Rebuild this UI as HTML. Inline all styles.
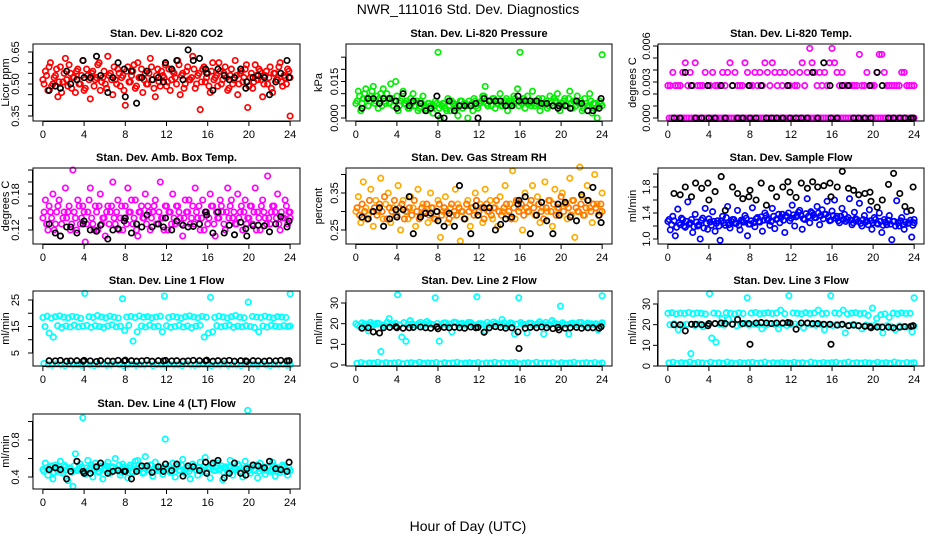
<!DOCTYPE html>
<html><head><meta charset="utf-8"><title>NWR_111016 Std. Dev. Diagnostics</title>
<style>
html,body{margin:0;padding:0;background:#fff;}
svg{display:block;font-family:"Liberation Sans",Arial,sans-serif;}
</style></head>
<body>
<svg id="chart" width="936" height="540" viewBox="0 0 936 540" xmlns="http://www.w3.org/2000/svg">
<rect x="0" y="0" width="936" height="540" fill="#fff"/>
<text x="468" y="14" text-anchor="middle" font-size="14">NWR_111016  Std. Dev. Diagnostics</text>
<text x="468" y="531" text-anchor="middle" font-size="14">Hour of Day (UTC)</text>
</svg>
<script>
// ---- shared data ----
const xTicks = [0,4,8,12,16,20,24];
const blackTimes = [0.6,1.2,1.7,2.3,2.7,3.3,3.9,4.0,4.6,5.2,5.6,6.3,6.8,7.3,7.9,8.0,8.6,9.1,9.6,10.1,10.6,11.2,11.7,11.9,12.5,13.0,13.6,14.1,14.6,15.2,15.8,15.9,16.5,17.0,17.6,18.1,18.6,19.2,19.7,19.8,20.4,20.9,21.5,22.0,22.6,23.1,23.7,23.9];

// ---- panel 1: CO2 ----
const co2Main = [0.52,0.56,0.47,0.60,0.50,0.54,0.44,0.58,0.51,0.62,0.49,0.55,0.53,0.46,0.57,0.50,0.61,0.48,0.54,0.43,0.56,0.52,0.59,0.47,0.53,0.50,0.63,0.55,0.45,0.52,0.57,0.49,0.54,0.40,0.58,0.51,0.56,0.48,0.60,0.53,0.46,0.55,0.50,0.62,0.52,0.44,0.57,0.49,0.54,0.59,0.51,0.47,0.56,0.53,0.61,0.45,0.55,0.50,0.58,0.52,0.63,0.48,0.54,0.38,0.57,0.51,0.55,0.46,0.60,0.53,0.49,0.56,0.52,0.58,0.47,0.54,0.50,0.61,0.45,0.55,0.51,0.57,0.39,0.53,0.48,0.59,0.52,0.56,0.44,0.54,0.50,0.58,0.46,0.55,0.52,0.60,0.49,0.53,0.57,0.35];
const co2MainB = [0.50,0.54,0.58,0.49,0.53,0.57,0.51,0.46,0.55,0.52,0.59,0.48,0.53,0.56,0.50,0.54,0.47,0.57,0.52,0.55,0.49,0.53,0.60,0.51,0.56,0.48,0.54,0.52,0.58,0.50,0.55,0.53,0.47,0.56,0.51,0.54,0.59,0.49,0.53,0.57,0.52,0.50,0.55,0.58,0.48,0.54,0.51,0.56,0.53,0.49,0.57,0.52,0.55,0.50,0.59,0.54,0.48,0.56,0.52,0.53,0.57,0.50,0.55,0.51,0.58,0.53,0.49,0.56,0.52,0.54,0.60,0.50,0.55,0.53,0.48,0.57,0.52,0.54,0.50,0.56,0.53,0.59,0.49,0.55,0.51,0.54,0.57,0.52,0.50,0.56,0.53,0.48,0.55,0.52,0.58,0.51,0.54,0.50,0.56,0.53];
const co2Black = [0.47,0.49,0.48,0.56,0.50,0.52,0.61,0.53,0.53,0.63,0.54,0.46,0.53,0.60,0.57,0.44,0.56,0.41,0.53,0.56,0.52,0.53,0.51,0.60,0.57,0.61,0.52,0.66,0.61,0.62,0.57,0.55,0.47,0.57,0.54,0.52,0.53,0.57,0.48,0.51,0.53,0.54,0.53,0.45,0.51,0.55,0.61,0.53];
const co2Ticks = [0.35,0.40,0.45,0.50,0.55,0.60,0.65];
const co2Labels = ["0.35","0.50","0.65"];

// ---- panel 2: pressure ----
const presMain = [0.006,0.011,0.003,0.008,0.012,0.005,0.009,0.013,0.007,0.004,0.010,0.012,0.006,0.008,0.014,0.005,0.015,0.003,0.007,0.011,0.006,0.004,0.008,0.010,0.005,0.003,0.007,0.009,0.004,0.006,0.005,0.002,0.007,0.027,0.000,0.006,0.004,0.008,0.003,0.006,0.005,0.001,0.007,0.004,0.006,0.000,0.005,0.003,0.007,0.004,0.006,0.009,0.013,0.005,0.007,0.008,0.004,0.006,0.010,0.005,0.007,0.003,0.006,0.005,0.008,0.012,0.027,0.007,0.004,0.009,0.006,0.011,0.005,0.007,0.003,0.008,0.006,0.004,0.009,0.005,0.007,0.010,0.003,0.006,0.008,0.005,0.011,0.004,0.007,0.009,0.006,0.003,0.008,0.005,0.010,0.002,0.006,0.000,0.007,0.026];
const presMainB = [0.007,0.009,0.006,0.010,0.008,0.007,0.011,0.006,0.009,0.008,0.005,0.007,0.010,0.006,0.008,0.007,0.009,0.005,0.008,0.006,0.007,0.004,0.006,0.005,0.007,0.004,0.006,0.005,0.003,0.006,0.004,0.005,0.006,0.004,0.005,0.006,0.003,0.005,0.007,0.006,0.004,0.005,0.007,0.006,0.005,0.007,0.006,0.008,0.005,0.006,0.007,0.009,0.006,0.007,0.005,0.008,0.006,0.007,0.005,0.006,0.008,0.007,0.006,0.009,0.007,0.005,0.006,0.008,0.007,0.006,0.005,0.007,0.006,0.008,0.005,0.006,0.007,0.005,0.006,0.008,0.007,0.005,0.006,0.007,0.005,0.008,0.006,0.007,0.005,0.006,0.007,0.004,0.006,0.005,0.007,0.006,0.004,0.005,0.006,0.005];
const presBlack = [0.004,0.008,0.008,0.006,0.008,0.008,0.007,0.004,0.010,0.005,0.007,0.006,0.003,0.004,0.009,0.001,0.000,0.007,0.003,0.005,0.005,0.005,0.006,0.000,0.008,0.007,0.007,0.007,0.005,0.005,0.009,0.007,0.007,0.007,0.007,0.006,0.006,0.005,0.004,0.005,0.005,0.004,0.007,0.006,0.003,0.003,0.004,0.008];
const presTicks = [0,0.005,0.010,0.015,0.020,0.025];
const presLabels = ["0.000","0.015"];

// ---- panel 3: Li-820 temperature ----
const tempMain = [0.0027,0.0027,0.0038,0.0027,0.0027,0.0027,0.0038,0.0046,0.0027,0.0038,0.0027,0.0046,0.0027,0.0027,0.0027,0.0038,0.0027,0.0027,0.0038,0.0027,0.0027,0.0027,0.0038,0.0027,0.0038,0.0046,0.0027,0.0038,0.0027,0.0027,0.0027,0.0046,0.0038,0.0027,0.0027,0.0038,0.0027,0.0038,0.0027,0.0046,0.0038,0.0027,0.0046,0.0038,0.0027,0.0038,0.0027,0.0038,0.0027,0.0027,0.0038,0.0027,0.0027,0.0038,0.0046,0.0027,0.0038,0.0058,0.0046,0.0038,0.0027,0.0038,0.0027,0.0038,0.0027,0.0046,0.0058,0.0046,0.0038,0.0027,0.0038,0.0027,0.0027,0.0027,0.0027,0.0027,0.0027,0.0053,0.0027,0.0027,0.0038,0.0027,0.0027,0.0027,0.0038,0.0053,0.0053,0.0038,0.0027,0.0027,0.0027,0.0027,0.0027,0.0027,0.0038,0.0038,0.0027,0.0027,0.0027,0.0027];
const tempMainB = [0,0,0,0,0,0,0,0,0,0,0,0,0,0,0,0,0,0,0,0,0,0,0,0,0,0,0,0,0,0,0,0,0,0,0,0,0,0,0,0,0,0,0,0,0,0,0,0,0,0,0,0,0,0,0,0,0,0,0,0,0,0,0,0,0,0,0,0,0,0,0,0,0,0,0,0,0,0,0,0,0,0,0,0,0,0,0,0,0,0,0,0,0,0,0,0,0,0,0,0];
const tempBlack = [0,0,0.0038,0.0027,0,0,0.0027,0,0,0.0027,0,0.0027,0,0,0.0027,0,0,0.0027,0,0,0,0,0.0027,0,0,0,0,0.0038,0,0.0046,0.0027,0,0,0.0027,0.0027,0,0,0,0.0027,0,0.0038,0.0027,0,0,0,0,0,0];
const tempTicks = [0,0.001,0.002,0.003,0.004,0.005,0.006];
const tempLabels = ["0.000","0.003","0.006"];

// ---- panel 4: ambient box temperature ----
const ambMain = [0.14,0.17,0.12,0.15,0.18,0.13,0.16,0.11,0.14,0.19,0.15,0.12,0.22,0.14,0.17,0.13,0.16,0.10,0.15,0.19,0.13,0.16,0.12,0.18,0.14,0.11,0.16,0.15,0.20,0.13,0.17,0.14,0.12,0.16,0.19,0.15,0.13,0.17,0.11,0.15,0.14,0.18,0.16,0.12,0.15,0.17,0.13,0.20,0.14,0.16,0.12,0.15,0.18,0.13,0.16,0.14,0.11,0.17,0.15,0.13,0.16,0.19,0.14,0.12,0.17,0.15,0.13,0.18,0.16,0.11,0.14,0.17,0.15,0.12,0.19,0.16,0.14,0.13,0.18,0.15,0.12,0.17,0.14,0.16,0.13,0.19,0.15,0.12,0.17,0.14,0.21,0.13,0.16,0.15,0.18,0.12,0.14,0.17,0.13,0.15];
const ambMainB = [0.15,0.13,0.16,0.14,0.12,0.15,0.17,0.13,0.15,0.14,0.16,0.13,0.15,0.12,0.16,0.14,0.15,0.13,0.17,0.14,0.12,0.15,0.16,0.13,0.14,0.15,0.13,0.16,0.14,0.15,0.12,0.16,0.14,0.13,0.15,0.17,0.14,0.12,0.15,0.16,0.14,0.13,0.15,0.14,0.16,0.13,0.15,0.14,0.12,0.16,0.15,0.13,0.14,0.16,0.15,0.13,0.14,0.15,0.17,0.14,0.13,0.15,0.16,0.14,0.12,0.15,0.14,0.16,0.13,0.15,0.14,0.16,0.13,0.15,0.14,0.17,0.15,0.13,0.14,0.16,0.15,0.13,0.14,0.16,0.15,0.12,0.14,0.16,0.15,0.13,0.14,0.15,0.16,0.14,0.13,0.15,0.14,0.16,0.15,0.14];
const ambBlack = [0.13,0.115,0.11,0.125,0.125,0.115,0.13,0.135,0.12,0.118,0.128,0.105,0.12,0.122,0.135,0.14,0.115,0.13,0.125,0.145,0.125,0.13,0.125,0.14,0.12,0.135,0.128,0.125,0.126,0.13,0.15,0.145,0.115,0.15,0.115,0.128,0.112,0.133,0.122,0.11,0.127,0.128,0.127,0.117,0.13,0.142,0.125,0.135];
const ambTicks = [0.12,0.14,0.16,0.18,0.20,0.22];
const ambLabels = ["0.12","0.18"];

// ---- panel 5: gas stream RH ----
const rhMain = [0.30,0.34,0.27,0.38,0.31,0.29,0.36,0.26,0.33,0.30,0.39,0.28,0.32,0.35,0.27,0.31,0.29,0.37,0.25,0.33,0.30,0.28,0.34,0.31,0.26,0.36,0.29,0.32,0.30,0.27,0.35,0.31,0.28,0.33,0.23,0.30,0.34,0.27,0.31,0.29,0.36,0.32,0.22,0.30,0.28,0.33,0.26,0.31,0.35,0.29,0.32,0.27,0.36,0.30,0.33,0.28,0.31,0.26,0.34,0.30,0.37,0.29,0.32,0.41,0.28,0.33,0.31,0.25,0.35,0.30,0.32,0.37,0.29,0.34,0.27,0.31,0.38,0.30,0.33,0.26,0.36,0.31,0.29,0.35,0.32,0.28,0.39,0.33,0.23,0.30,0.42,0.34,0.29,0.37,0.31,0.27,0.40,0.32,0.30,0.35];
const rhMainB = [0.31,0.29,0.32,0.30,0.28,0.33,0.30,0.31,0.29,0.32,0.30,0.34,0.28,0.31,0.30,0.33,0.29,0.31,0.32,0.28,0.30,0.31,0.29,0.33,0.30,0.28,0.31,0.30,0.32,0.29,0.31,0.28,0.30,0.32,0.29,0.31,0.30,0.28,0.32,0.30,0.29,0.31,0.30,0.28,0.32,0.30,0.31,0.29,0.33,0.30,0.31,0.28,0.32,0.30,0.29,0.31,0.33,0.30,0.29,0.31,0.32,0.30,0.28,0.31,0.33,0.30,0.32,0.29,0.31,0.30,0.33,0.31,0.29,0.32,0.30,0.28,0.31,0.33,0.30,0.32,0.29,0.31,0.34,0.30,0.32,0.31,0.29,0.33,0.31,0.30,0.32,0.29,0.31,0.33,0.30,0.32,0.31,0.29,0.32,0.30];
const rhBlack = [0.285,0.28,0.30,0.31,0.26,0.28,0.305,0.285,0.305,0.34,0.24,0.285,0.295,0.295,0.30,0.275,0.26,0.295,0.26,0.37,0.28,0.24,0.315,0.29,0.31,0.31,0.25,0.265,0.28,0.285,0.32,0.33,0.34,0.24,0.29,0.325,0.275,0.24,0.32,0.29,0.325,0.285,0.275,0.345,0.33,0.365,0.29,0.27];
const rhTicks = [0.25,0.30,0.35,0.40];
const rhLabels = ["0.25","0.35"];

// ---- panel 6: sample flow ----
const sfMain = [1.27,1.14,1.35,1.05,1.46,1.22,1.30,1.18,1.57,1.25,1.10,1.38,1.20,1.00,1.32,1.47,1.15,1.26,1.42,1.12,1.28,0.98,1.35,1.21,1.50,1.17,1.30,1.24,1.44,1.14,1.27,1.36,1.05,1.23,1.48,1.19,1.33,1.26,1.12,1.40,1.29,1.21,1.47,1.16,1.31,1.25,1.38,1.10,1.34,1.28,1.52,1.20,1.36,1.44,1.15,1.30,1.62,1.25,1.40,1.33,1.50,1.22,1.45,1.38,1.58,1.28,1.43,1.60,1.35,1.25,1.47,1.38,1.30,1.62,1.22,1.41,1.30,1.55,1.20,1.36,1.28,1.45,1.15,1.33,1.24,1.40,1.10,1.30,1.22,1.36,0.99,1.27,1.59,1.20,1.33,1.15,1.42,1.25,1.03,1.30];
const sfMainB = [1.30,1.22,1.28,1.18,1.25,1.32,1.20,1.27,1.23,1.30,1.19,1.26,1.22,1.29,1.17,1.24,1.31,1.21,1.27,1.24,1.20,1.28,1.25,1.33,1.22,1.27,1.30,1.24,1.21,1.29,1.26,1.32,1.23,1.28,1.25,1.31,1.27,1.34,1.29,1.36,1.31,1.27,1.35,1.30,1.38,1.33,1.29,1.36,1.40,1.32,1.37,1.34,1.41,1.36,1.31,1.39,1.35,1.42,1.37,1.33,1.40,1.36,1.31,1.38,1.34,1.29,1.36,1.32,1.28,1.35,1.30,1.27,1.33,1.29,1.25,1.31,1.27,1.24,1.30,1.26,1.22,1.28,1.25,1.30,1.23,1.27,1.21,1.26,1.29,1.23,1.27,1.20,1.25,1.28,1.22,1.26,1.24,1.29,1.21,1.25];
const sfBlack = [1.7,1.68,1.8,1.65,1.86,1.78,1.86,1.6,1.73,1.96,1.44,1.80,1.70,1.62,1.65,1.75,1.60,1.86,1.52,1.78,1.65,1.80,1.88,1.72,1.64,1.86,1.78,1.88,1.80,1.82,1.86,1.65,1.80,2.04,1.78,1.75,1.68,1.70,1.72,1.58,1.49,1.60,1.84,2.01,1.70,1.50,1.44,1.80];
const sfTicks = [1.0,1.2,1.4,1.6,1.8,2.0];
const sfLabels = ["1.0","1.4","1.8"];

// ---- panel 7: line 1 flow ----
const l1Upper = [18.4,18.9,18.2,18.7,19.0,18.5,18.3,18.8,18.6,18.1,27.5,18.7,18.4,19.1,18.6,18.3,18.9,18.5,18.2,25.5,18.6,18.8,18.4,19.0,18.5,18.7,18.3,18.6,18.9,26.5,18.4,18.8,18.5,18.2,18.7,19.0,18.6,18.3,18.8,18.5,26.0,18.4,18.9,18.6,18.2,18.7,19.1,18.5,18.3,24.2,18.8,18.6,18.4,18.9,18.5,18.2,18.7,18.6,18.4,27.3];
const l1Lower = [15.0,12.5,11.0,15.3,14.6,15.2,14.8,15.5,14.9,15.1,15.4,14.7,15.3,15.0,14.6,15.2,15.6,14.9,15.1,13.5,15.4,9.5,13.0,15.2,14.8,15.5,14.9,15.1,13.0,15.3,14.7,15.0,15.4,14.8,15.2,14.5,15.1,15.4,11.0,12.5,13.0,15.3,14.9,15.2,15.5,14.7,15.1,14.9,15.3,15.0,14.6,13.0,15.2,14.8,15.4,15.1,14.9,15.3,15.0,15.2];
const l1Zero = [1.0,0.6,0.4,0.8,0.5,0.3,0.7,0.5,0.6,0.4,0.8,0.5,0.3,0.6,0.7,0.4,0.5,0.8,0.6,0.3,0.5,0.7,0.4,0.6,0.5,0.8,0.3,0.6,0.5,0.4,0.7,0.5,0.6,0.3,0.8,0.5,0.4,0.6,0.7,0.5,0.3,0.6,0.5,0.8,0.4,0.6,0.5,0.3,0.7,0.5,0.6,0.4,0.8,0.5,0.3,0.6,0.5,0.7,0.4,0.6];
const l1Black = [2.1,2.0,2.2,1.9,2.0,2.1,1.9,2.2,2.0,1.8,2.1,2.0,1.9,2.2,2.0,2.3,2.1,1.9,2.0,2.2,1.9,2.1,2.0,2.2,2.0,2.1,1.9,2.0,2.2,2.1,2.0,2.3,1.9,2.1,2.0,2.2,1.9,2.1,2.0,1.8,2.1,2.0,1.9,2.1,2.0,2.2,2.0,2.1];
const l1Ticks = [5,10,15,20,25];
const l1Labels = ["5","15","25"];

// ---- panel 8: line 2 flow ----
const l2Upper = [20.0,18.5,19.5,16.5,19.8,20.2,6.5,19.0,22.5,19.6,34.0,13.5,11.5,21.5,19.4,20.1,19.0,21.0,19.7,32.5,11.5,20.3,19.2,16.0,20.5,19.8,19.3,20.6,19.5,33.0,20.0,16.5,19.4,20.8,19.6,22.0,19.1,20.4,15.0,32.5,19.8,15.5,20.2,19.5,20.9,15.0,19.3,21.5,20.0,28.5,19.7,15.0,20.3,19.4,20.6,19.1,20.0,19.6,17.0,33.5];
const l2Mid = [19.2,20.4,19.8,20.6,19.5,20.1,19.3,20.7,19.9,20.2,19.4,20.5,19.7,20.0,19.2,20.6,19.8,20.3,19.5,20.1,19.6,20.4,19.9,20.7,19.3,20.2,19.8,20.5,19.4,20.0,19.7,20.6,19.5,20.2,19.9,20.4,19.3,20.1,19.8,20.5,19.6,20.3,19.2,20.0,19.9,20.6,19.4,20.2,19.7,20.4,19.5,20.1,19.8,20.6,19.3,20.3,19.9,20.0,19.6,20.4];
const l2Zero = [0.8,1.2,0.6,1.0,0.9,1.3,0.7,1.1,0.8,1.0,1.2,0.6,0.9,1.1,0.7,1.3,0.8,1.0,0.9,1.2,0.6,1.1,0.8,1.0,1.3,0.7,0.9,1.1,0.8,1.2,0.6,1.0,0.9,1.3,0.7,1.1,0.8,1.0,1.2,0.6,0.9,1.1,0.7,1.3,0.8,1.0,0.9,1.2,0.6,1.1,0.8,1.0,1.3,0.7,0.9,1.1,0.8,1.2,0.6,1.0];
const l2Black = [17.8,18.0,16.0,15.5,18.0,18.2,18.5,18.0,17.8,18.0,18.2,18.4,18.0,17.8,18.5,17.5,18.2,18.0,18.3,18.0,17.8,18.4,18.0,18.2,15.8,18.0,18.6,18.2,17.8,18.0,16.0,8.0,17.8,18.2,18.0,18.4,18.0,17.6,18.2,17.0,17.8,18.0,18.2,17.8,18.0,18.0,17.8,18.5];
const l2Ticks = [0,10,20,30];
const l2Labels = ["0","10","20","30"];

// ---- panel 9: line 3 flow ----
const l3Upper = [25.5,25.8,25.2,25.6,25.4,25.9,25.3,25.7,25.5,25.1,35.0,25.6,25.4,23.0,25.8,25.5,25.2,25.7,25.4,33.0,25.6,25.9,25.3,25.5,25.8,25.4,25.6,27.0,25.3,34.0,25.7,25.5,25.2,25.8,25.4,25.6,27.0,25.3,25.5,34.0,25.7,25.4,27.0,25.2,25.6,25.8,25.3,25.5,24.5,28.0,23.0,24.8,25.2,23.5,25.6,25.3,25.7,25.4,25.5,33.0];
const l3Lower = [20.0,20.4,17.5,19.8,20.2,6.0,19.6,20.3,19.0,20.1,13.5,11.5,20.2,19.8,22.5,20.4,19.5,20.0,20.6,19.8,20.3,20.1,18.0,19.7,20.5,20.2,18.0,20.4,19.6,20.1,20.3,19.8,18.5,20.5,20.0,19.7,20.2,17.5,20.0,19.6,20.1,19.8,16.0,19.7,20.2,19.5,18.0,19.8,19.4,19.6,19.2,16.0,19.5,19.0,17.5,19.3,19.0,18.8,16.5,19.2];
const l3Zero = [1.5,1.8,1.2,1.6,1.4,1.9,1.3,1.7,1.5,1.2,1.8,1.4,1.6,1.3,1.9,1.5,1.2,1.7,1.4,1.6,1.8,1.3,1.5,1.9,1.2,1.6,1.4,1.7,1.5,1.3,1.8,1.4,1.6,1.2,1.9,1.5,1.3,1.7,1.4,1.6,1.8,1.2,1.5,1.9,1.3,1.6,1.4,1.7,1.5,1.2,1.8,1.4,1.6,1.3,1.9,1.5,1.2,1.7,1.4,1.6];
const l3Black = [20.0,20.0,17.0,20.2,20.2,20.0,19.5,20.5,20.5,20.8,20.5,20.2,22.5,20.5,20.5,10.5,20.8,21.0,20.8,20.5,20.8,20.8,21.0,20.8,17.8,20.8,20.8,20.5,20.5,20.2,20.2,10.5,19.8,20.2,19.5,19.8,19.5,19.2,19.0,18.5,18.8,18.8,18.8,18.5,18.8,19.0,19.2,19.5];
const l3Ticks = [0,10,20,30];
const l3Labels = ["0","10","20","30"];

// ---- panel 10: line 4 (LT) flow ----
const l4Main = [0.48,0.55,0.42,0.50,0.38,0.53,0.46,0.57,0.44,0.51,0.36,0.49,0.30,0.65,0.47,0.54,1.04,0.43,0.58,0.50,0.40,0.55,0.46,0.52,0.38,0.49,0.56,0.44,0.51,0.60,0.47,0.42,0.54,0.48,0.39,0.53,0.45,0.57,0.58,0.50,0.44,0.62,0.48,0.53,0.41,0.56,0.47,0.51,0.43,0.81,0.49,0.45,0.55,0.40,0.52,0.47,0.59,0.44,0.50,0.38,0.54,0.48,0.42,0.56,0.46,0.61,0.50,0.39,0.53,0.47,0.55,0.49,0.37,0.51,0.45,0.58,0.42,0.50,0.54,0.46,0.40,0.57,1.12,0.44,0.52,0.47,0.39,0.55,0.48,0.43,0.51,0.46,0.56,0.41,0.50,0.45,0.53,0.48,0.42,0.47];
const l4MainB = [0.46,0.50,0.47,0.52,0.45,0.49,0.51,0.46,0.53,0.48,0.50,0.45,0.52,0.47,0.49,0.51,0.46,0.50,0.48,0.53,0.47,0.49,0.45,0.51,0.48,0.52,0.46,0.50,0.47,0.49,0.53,0.45,0.51,0.48,0.50,0.46,0.52,0.49,0.47,0.51,0.45,0.50,0.48,0.53,0.46,0.49,0.51,0.47,0.50,0.48,0.52,0.46,0.49,0.51,0.47,0.53,0.48,0.50,0.46,0.49,0.52,0.47,0.50,0.48,0.51,0.46,0.49,0.53,0.47,0.50,0.48,0.52,0.45,0.49,0.51,0.47,0.50,0.48,0.52,0.46,0.49,0.51,0.47,0.50,0.48,0.53,0.46,0.49,0.51,0.47,0.50,0.48,0.52,0.46,0.49,0.47,0.51,0.48,0.50,0.47];
const l4Black = [0.48,0.50,0.48,0.38,0.46,0.57,0.46,0.44,0.44,0.51,0.55,0.44,0.46,0.47,0.46,0.46,0.38,0.46,0.52,0.52,0.45,0.51,0.46,0.54,0.47,0.54,0.41,0.52,0.51,0.47,0.56,0.44,0.55,0.58,0.39,0.44,0.55,0.44,0.42,0.49,0.53,0.52,0.50,0.57,0.49,0.48,0.46,0.56];
const l4Ticks = [0.4,0.6,0.8,1.0];
const l4Labels = ["0.4","0.8"];

// ---- layout ----
const NS = "http://www.w3.org/2000/svg";
const svg = document.getElementById('chart');
const cols = [{l:33,r:300,lab:16,tit:6},{l:346,r:612,lab:335,tit:319},{l:658,r:924,lab:647,tit:633}];
const rows = [{t:44,b:121},{t:168,b:244},{t:291,b:366},{t:414,b:489}];

function mk(tag, attrs, parent){
  const el = document.createElementNS(NS, tag);
  for (const k in attrs) el.setAttribute(k, attrs[k]);
  (parent||svg).appendChild(el);
  return el;
}

const panels = [
  {key:'co2',title:'Stan. Dev. Li-820 CO2',ylab:'Licor ppm',c:0,r:0,ref:[0.35,116,0.65,52],ticks:co2Ticks,labels:co2Labels,
   series:[{v:co2Main,col:'#ff0000',off:0},{v:co2MainB,col:'#ff0000',off:0.5}],black:co2Black},
  {key:'pressure',title:'Stan. Dev. Li-820 Pressure',ylab:'kPa',c:1,r:0,ref:[0,118,0.015,81.5],ticks:presTicks,labels:presLabels,
   series:[{v:presMain,col:'#00ee00',off:0},{v:presMainB,col:'#00ee00',off:0.5}],black:presBlack},
  {key:'li820-temp',title:'Stan. Dev. Li-820 Temp.',ylab:'degrees C',c:2,r:0,ref:[0,118,0.006,46],ticks:tempTicks,labels:tempLabels,
   series:[{v:tempMainB,col:'#ff00ff',off:0.5},{v:tempMain,col:'#ff00ff',off:0}],black:tempBlack},
  {key:'amb-box-temp',title:'Stan. Dev. Amb. Box Temp.',ylab:'degrees C',c:0,r:1,ref:[0.12,230,0.18,194],ticks:ambTicks,labels:ambLabels,
   series:[{v:ambMain,col:'#ff00ff',off:0},{v:ambMainB,col:'#ff00ff',off:0.5}],black:ambBlack},
  {key:'gas-stream-rh',title:'Stan. Dev. Gas Stream RH',ylab:'percent',c:1,r:1,ref:[0.25,230,0.35,193],ticks:rhTicks,labels:rhLabels,
   series:[{v:rhMain,col:'#ffaa00',off:0},{v:rhMainB,col:'#ff7700',off:0.5}],black:rhBlack},
  {key:'sample-flow',title:'Stan. Dev. Sample Flow',ylab:'ml/min',c:2,r:1,ref:[1.0,239,1.8,187],ticks:sfTicks,labels:sfLabels,
   series:[{v:sfMain,col:'#0000ff',off:0},{v:sfMainB,col:'#0000ff',off:0.5}],black:sfBlack},
  {key:'line1-flow',title:'Stan. Dev. Line 1 Flow',ylab:'ml/min',c:0,r:2,ref:[5,353,25,300],ticks:l1Ticks,labels:l1Labels,
   series:[{v:l1Upper,col:'#00ffff',off:0},{v:l1Lower,col:'#00ffff',off:0.5},{v:l1Zero,col:'#00ffff',off:0.25}],black:l1Black},
  {key:'line2-flow',title:'Stan. Dev. Line 2 Flow',ylab:'ml/min',c:1,r:2,ref:[0,365,30,303],ticks:l2Ticks,labels:l2Labels,
   series:[{v:l2Upper,col:'#00ffff',off:0},{v:l2Mid,col:'#00ffff',off:0.5},{v:l2Zero,col:'#00ffff',off:0.25}],black:l2Black},
  {key:'line3-flow',title:'Stan. Dev. Line 3 Flow',ylab:'ml/min',c:2,r:2,ref:[0,366,30,304],ticks:l3Ticks,labels:l3Labels,
   series:[{v:l3Upper,col:'#00ffff',off:0},{v:l3Lower,col:'#00ffff',off:0.5},{v:l3Zero,col:'#00ffff',off:0.25}],black:l3Black},
  {key:'line4-flow',title:'Stan. Dev. Line 4 (LT) Flow',ylab:'ml/min',c:0,r:3,ref:[0.4,477,0.8,440],ticks:l4Ticks,labels:l4Labels,
   series:[{v:l4Main,col:'#00ffff',off:0},{v:l4MainB,col:'#00ffff',off:0.5}],black:l4Black}
];

panels.forEach(p => {
  const C = cols[p.c], R = rows[p.r];
  const xs = t => C.l + (t + 0.96) * (C.r - C.l) / 25.92;
  const ys = v => p.ref[1] + (v - p.ref[0]) * (p.ref[3] - p.ref[1]) / (p.ref[2] - p.ref[0]);
  const g = mk('g', {});
  
  

  const title = mk('text', {x:(C.l+C.r)/2, y:R.t-7, 'text-anchor':'middle', 'font-size':11, 'font-weight':'bold'}, g);
  title.textContent = p.title;
  
  

  const yt = mk('text', {x:C.tit, y:(R.t+R.b)/2, 'text-anchor':'middle', 'dominant-baseline':'central', 'font-size':11, transform:`rotate(-90 ${C.tit} ${(R.t+R.b)/2})`}, g);
  yt.textContent = p.ylab;
  
  

  const pts = mk('g', {fill:'none','stroke-width':1.7}, g);
  
  
  p.series.forEach(s => {
    const n = s.v.length;
    s.v.forEach((v, i) => {
      const t = Math.min(24, (i + s.off) * 24 / (n - 1));
      const c = mk('circle', {cx:xs(t).toFixed(1), cy:ys(v).toFixed(1), r:2.7, stroke:s.col}, pts);
      
      
    });
  });
  p.black.forEach((v, i) => {
    const c = mk('circle', {cx:xs(blackTimes[i]).toFixed(1), cy:ys(v).toFixed(1), r:2.7, stroke:'#000'}, pts);
    
    
  });

  const box = mk('rect', {x:C.l, y:R.t, width:C.r-C.l, height:R.b-R.t, fill:'none', stroke:'#000', 'stroke-width':1}, g);
  
  

  const xa = mk('g', {stroke:'#000','stroke-width':1}, g);
  
  
  mk('line', {x1:xs(0), x2:xs(24), y1:R.b+0.5, y2:R.b+0.5}, xa);
  xTicks.forEach(t => {
    mk('line', {x1:xs(t), x2:xs(t), y1:R.b, y2:R.b+5}, xa);
    const tl = mk('text', {x:xs(t), y:R.b+17, 'text-anchor':'middle', 'font-size':11, stroke:'none', fill:'#000'}, xa);
    tl.textContent = t;
    
    
  });

  const ya = mk('g', {stroke:'#000','stroke-width':1}, g);
  
  
  const tk = p.ticks;
  mk('line', {x1:C.l-0.5, x2:C.l-0.5, y1:ys(tk[0]), y2:ys(tk[tk.length-1])}, ya);
  tk.forEach(v => { mk('line', {x1:C.l-5, x2:C.l, y1:ys(v), y2:ys(v)}, ya); });
  p.labels.forEach(s => {
    const y = ys(parseFloat(s));
    const tl = mk('text', {x:C.lab, y:y, 'text-anchor':'middle', 'dominant-baseline':'central', 'font-size':11, stroke:'none', fill:'#000', transform:`rotate(-90 ${C.lab} ${y})`}, ya);
    tl.textContent = s;
    
    
  });
});
</script>
</body></html>
